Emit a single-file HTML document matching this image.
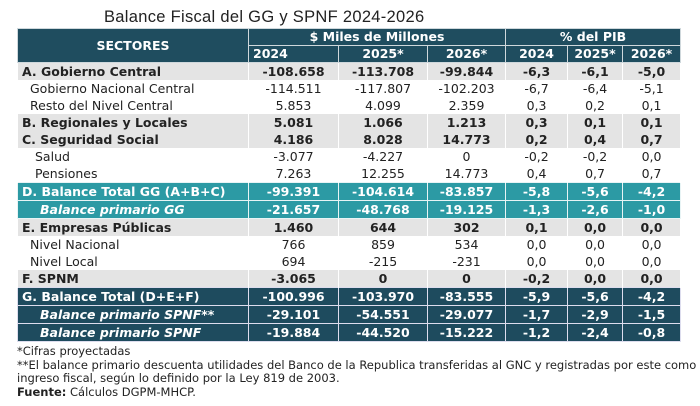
<!DOCTYPE html>
<html><head><meta charset="utf-8"><style>
body{margin:0;width:700px;height:406px;background:#fff;font-family:"DejaVu Sans","Liberation Sans",sans-serif;color:#222;overflow:hidden;position:relative}
.title{position:absolute;left:104px;top:8px;font-size:16.5px;font-family:"Liberation Sans",sans-serif;color:#222;letter-spacing:0.3px}
table{position:absolute;left:17px;top:28px;border-collapse:collapse;table-layout:fixed;width:663px}
td{height:17px;padding:0;font-size:12.5px;text-align:center;border-left:1px solid #fff;border-right:1px solid #fff;white-space:nowrap;line-height:16px;overflow:hidden}
td:first-child{text-align:left;padding-left:4px}
.h td{background:#1f4d5f;color:#fff;font-weight:bold;height:16px;border:1px solid #cfd8dc}
.b td{background:#e4e4e4;font-weight:bold}
.s td:first-child{padding-left:12px}
.ss td:first-child{padding-left:17px}
.t td{background:#2c9aa4;color:#fff;font-weight:bold;border:1px solid #e8f4f5}
.g td{background:#1e4b5e;color:#fff;font-weight:bold;border:1px solid #dde}
.i td:first-child{font-style:italic;padding-left:22px}
.foot{position:absolute;left:17px;top:345px;font-size:11.5px;line-height:13.5px;color:#222;white-space:nowrap}
</style></head><body>
<div class="title">Balance Fiscal del GG y SPNF 2024-2026</div>
<table>
<colgroup><col style="width:231px"><col style="width:90px"><col style="width:89px"><col style="width:78px"><col style="width:62px"><col style="width:55px"><col style="width:58px"></colgroup>
<tr class="h"><td rowspan="2" style="text-align:center;padding:0">SECTORES</td><td colspan="3">$ Miles de Millones</td><td colspan="3">% del PIB</td></tr>
<tr class="h"><td>2024</td><td>2025*</td><td>2026*</td><td>2024</td><td>2025*</td><td>2026*</td></tr>
<tr class="b"><td>A. Gobierno Central</td><td>-108.658</td><td>-113.708</td><td>-99.844</td><td>-6,3</td><td>-6,1</td><td>-5,0</td></tr>
<tr class="s"><td>Gobierno Nacional Central</td><td>-114.511</td><td>-117.807</td><td>-102.203</td><td>-6,7</td><td>-6,4</td><td>-5,1</td></tr>
<tr class="s"><td>Resto del Nivel Central</td><td>5.853</td><td>4.099</td><td>2.359</td><td>0,3</td><td>0,2</td><td>0,1</td></tr>
<tr class="b"><td>B. Regionales y Locales</td><td>5.081</td><td>1.066</td><td>1.213</td><td>0,3</td><td>0,1</td><td>0,1</td></tr>
<tr class="b"><td>C. Seguridad Social</td><td>4.186</td><td>8.028</td><td>14.773</td><td>0,2</td><td>0,4</td><td>0,7</td></tr>
<tr class="ss"><td>Salud</td><td>-3.077</td><td>-4.227</td><td>0</td><td>-0,2</td><td>-0,2</td><td>0,0</td></tr>
<tr class="ss"><td>Pensiones</td><td>7.263</td><td>12.255</td><td>14.773</td><td>0,4</td><td>0,7</td><td>0,7</td></tr>
<tr class="t"><td>D. Balance Total GG (A+B+C)</td><td>-99.391</td><td>-104.614</td><td>-83.857</td><td>-5,8</td><td>-5,6</td><td>-4,2</td></tr>
<tr class="t i"><td>Balance primario GG</td><td>-21.657</td><td>-48.768</td><td>-19.125</td><td>-1,3</td><td>-2,6</td><td>-1,0</td></tr>
<tr class="b"><td>E. Empresas Públicas</td><td>1.460</td><td>644</td><td>302</td><td>0,1</td><td>0,0</td><td>0,0</td></tr>
<tr class="s"><td>Nivel Nacional</td><td>766</td><td>859</td><td>534</td><td>0,0</td><td>0,0</td><td>0,0</td></tr>
<tr class="s"><td>Nivel Local</td><td>694</td><td>-215</td><td>-231</td><td>0,0</td><td>0,0</td><td>0,0</td></tr>
<tr class="b"><td>F. SPNM</td><td>-3.065</td><td>0</td><td>0</td><td>-0,2</td><td>0,0</td><td>0,0</td></tr>
<tr class="g"><td>G. Balance Total (D+E+F)</td><td>-100.996</td><td>-103.970</td><td>-83.555</td><td>-5,9</td><td>-5,6</td><td>-4,2</td></tr>
<tr class="g i"><td>Balance primario SPNF**</td><td>-29.101</td><td>-54.551</td><td>-29.077</td><td>-1,7</td><td>-2,9</td><td>-1,5</td></tr>
<tr class="g i"><td>Balance primario SPNF</td><td>-19.884</td><td>-44.520</td><td>-15.222</td><td>-1,2</td><td>-2,4</td><td>-0,8</td></tr>
</table>
<div class="foot">*Cifras proyectadas<br>**El balance primario descuenta utilidades del Banco de la Republica transferidas al GNC y registradas por este como<br>ingreso fiscal, según lo definido por la Ley 819 de 2003.<br><b>Fuente:</b> Cálculos DGPM-MHCP.</div>
</body></html>
